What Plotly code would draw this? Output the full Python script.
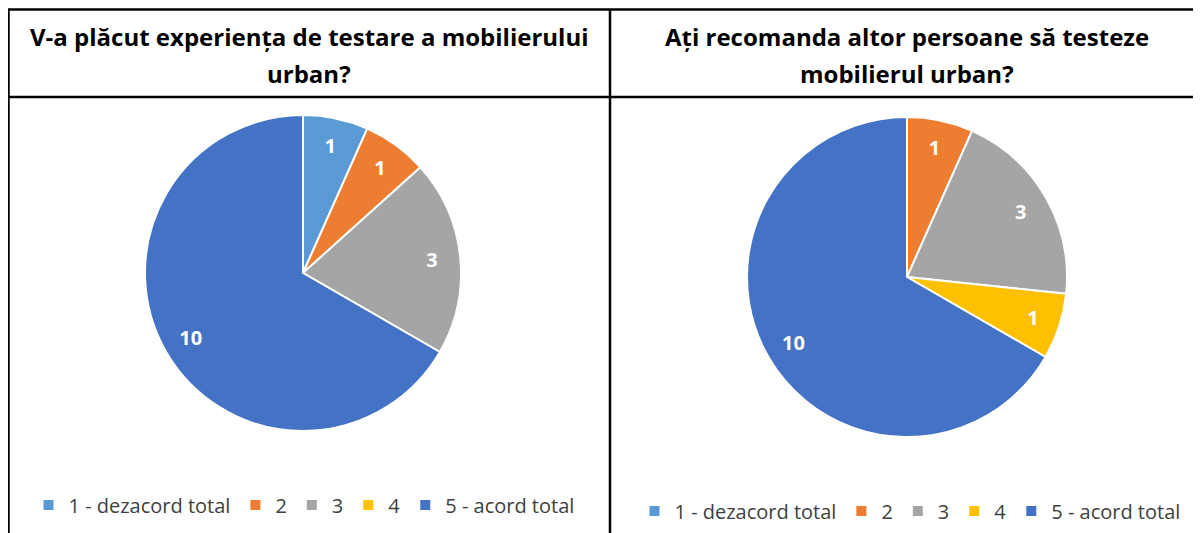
import plotly.graph_objects as go

categories = ["1 - dezacord total", "2", "3", "4", "5 - acord total"]
values_left = [1, 1, 3, 0, 10]
values_right = [0, 1, 3, 1, 10]
colors = ["#5B9BD5", "#ED7D31", "#A5A5A5", "#FFC000", "#4472C4"]
title_left = ["V-a plăcut experiența de testare a mobilierului", "urban?"]
title_right = ["Ați recomanda altor persoane să testeze", "mobilierul urban?"]

# page body has an 8px margin; figure is placed at (8, 8)
OFF = 8
W, H = 1193, 525
def px(x): return (x - OFF) / W
def py(y): return 1 - (y - OFF) / H

fig = go.Figure()

def add_pie(vals, labels, cx, cy, r, legend):
    dom = dict(x=[px(cx - r), px(cx + r)], y=[py(cy + r), py(cy - r)])
    fig.add_trace(go.Pie(
        labels=labels, values=vals, sort=False, direction="clockwise", rotation=0,
        marker=dict(colors=colors, line=dict(color="white", width=2)),
        textinfo="none", domain=dom, legend=legend, hoverinfo="label+value",
    ))
    # transparent ring overlay to place value labels near the rim (like Excel)
    fig.add_trace(go.Pie(
        labels=labels, values=vals, sort=False, direction="clockwise", rotation=0,
        hole=0.64, marker=dict(colors=["rgba(0,0,0,0)"] * 5, line=dict(width=0)),
        textinfo="value", textposition="inside", insidetextorientation="horizontal",
        textfont=dict(family="Open Sans", size=20, color="white", weight="bold"),
        domain=dom, showlegend=False, hoverinfo="skip",
    ))

# distinct (zero-width-space) labels so the second legend is not merged into the first
labels_right = [c + "\u200b" for c in categories]
add_pie(values_left, categories, 303, 273, 158, "legend")
add_pie(values_right, labels_right, 907, 277, 160, "legend2")

legend_common = dict(orientation="h", xanchor="center", yanchor="middle", itemwidth=30,
                     font=dict(family="Open Sans", size=20, color="#404040"),
                     bgcolor="rgba(0,0,0,0)", itemclick=False)
fig.update_layout(
    width=W, height=H, margin=dict(l=0, r=0, t=0, b=0),
    paper_bgcolor="white", plot_bgcolor="white",
    legend=dict(x=px(304), y=py(505), **legend_common),
    legend2=dict(x=px(910), y=py(511), **legend_common),
)

for lines, cx in [(title_left, 309), (title_right, 907)]:
    for txt, cy in zip(lines, [36, 73]):
        fig.add_annotation(text="<b>" + txt + "</b>", x=px(cx), y=py(cy), xref="paper", yref="paper",
                           showarrow=False, xanchor="center", yanchor="middle",
                           font=dict(family="Open Sans", size=24, color="black"))

line = dict(color="black", width=2.5)
for x0, y0, x1, y1 in [(8, 9.5, 1201, 9.5), (8, 97, 1201, 97), (8.5, 9.5, 8.5, 533), (610, 9.5, 610, 533)]:
    fig.add_shape(type="line", xref="paper", yref="paper", x0=px(x0), y0=py(y0), x1=px(x1), y1=py(y1), line=line)

fig.write_html("out.html")
